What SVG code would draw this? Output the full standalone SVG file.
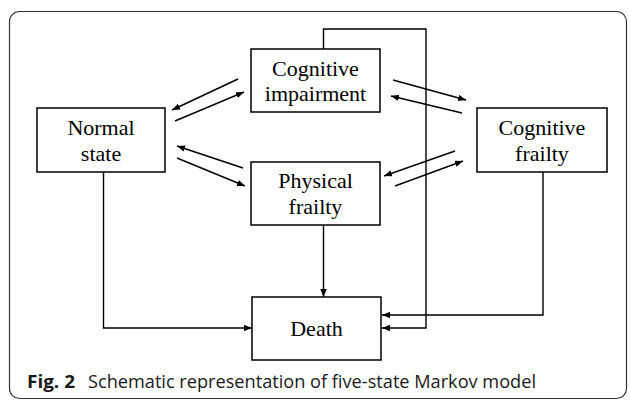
<svg xmlns="http://www.w3.org/2000/svg" width="630" height="402" viewBox="0 0 630 402">
<style>
.box{fill:#fff;stroke:#000;stroke-width:1.5}
.lbl{font-family:"Liberation Serif","Times New Roman",serif;font-size:22px;fill:#000;text-anchor:middle}
.ln{fill:none;stroke:#000;stroke-width:1.4}
.cap{font-family:"Open Sans","Liberation Sans",sans-serif;font-size:18.5px;fill:#1a1a1a}
</style>
<defs>
<marker id="ah" viewBox="0 0 10 8" refX="10" refY="4" markerWidth="8" markerHeight="6.4" markerUnits="userSpaceOnUse" orient="auto">
<path d="M0,0 L10,4 L0,8 z" fill="#000"/>
</marker>
</defs>
<rect x="9.5" y="11.5" width="617" height="387" rx="10" fill="#fff" stroke="#333" stroke-width="1.2"/>
<g id="connectors">
<line class="ln" x1="238" y1="79" x2="172" y2="110" marker-end="url(#ah)"/>
<line class="ln" x1="175" y1="121" x2="244" y2="92" marker-end="url(#ah)"/>
<line class="ln" x1="243" y1="168" x2="177" y2="146" marker-end="url(#ah)"/>
<line class="ln" x1="177" y1="158" x2="245" y2="186" marker-end="url(#ah)"/>
<line class="ln" x1="393" y1="80" x2="466" y2="100" marker-end="url(#ah)"/>
<line class="ln" x1="462" y1="113" x2="391" y2="96" marker-end="url(#ah)"/>
<line class="ln" x1="455" y1="151" x2="384" y2="176" marker-end="url(#ah)"/>
<line class="ln" x1="395" y1="186" x2="463" y2="161" marker-end="url(#ah)"/>
<polyline class="ln" points="323.5,49 323.5,29 426,29 426,328 382,328" marker-end="url(#ah)"/>
<polyline class="ln" points="543,172 543,315 382,315" marker-end="url(#ah)"/>
<polyline class="ln" points="103.5,172 103.5,328 252,328" marker-end="url(#ah)"/>
<line class="ln" x1="323.5" y1="225" x2="323.5" y2="297" marker-end="url(#ah)"/>
</g>
<g id="cognitive-impairment">
<rect class="box" x="251" y="49" width="129" height="63"/>
<text class="lbl" x="315.5" y="75.5">Cognitive</text>
<text class="lbl" x="315.5" y="100.5">impairment</text>
</g>
<g id="normal-state">
<rect class="box" x="37" y="108" width="128" height="64"/>
<text class="lbl" x="101" y="135">Normal</text>
<text class="lbl" x="101" y="161">state</text>
</g>
<g id="cognitive-frailty">
<rect class="box" x="477" y="108" width="130" height="64"/>
<text class="lbl" x="542" y="135">Cognitive</text>
<text class="lbl" x="542" y="161">frailty</text>
</g>
<g id="physical-frailty">
<rect class="box" x="251" y="162" width="129" height="63"/>
<text class="lbl" x="315.5" y="188">Physical</text>
<text class="lbl" x="315.5" y="214">frailty</text>
</g>
<g id="death">
<rect class="box" x="252" y="297" width="129" height="63"/>
<text class="lbl" x="316.5" y="336">Death</text>
</g>
<text class="cap" x="27" y="388"><tspan font-weight="bold" textLength="48" lengthAdjust="spacingAndGlyphs">Fig. 2</tspan><tspan x="88" textLength="448" lengthAdjust="spacingAndGlyphs">Schematic representation of five-state Markov model</tspan></text>
</svg>
